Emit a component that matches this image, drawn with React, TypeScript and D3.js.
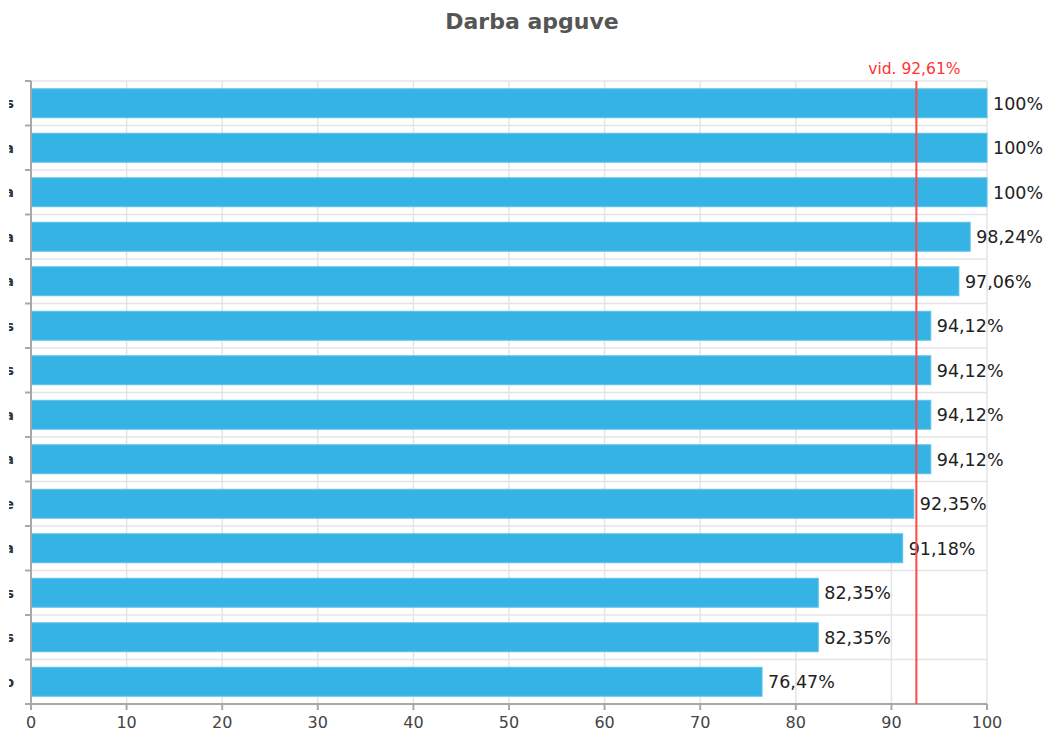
import React from "react";
import * as d3 from "d3";

// Visible trailing letters of the group names (the names run off the left edge)
const categories: string[] = ["s", "a", "a", "a", "a", "s", "s", "a", "a", "e", "a", "s", "s", "o"];
const values: number[] = [100, 100, 100, 98.24, 97.06, 94.12, 94.12, 94.12, 94.12, 92.35, 91.18, 82.35, 82.35, 76.47];
const xTicks: number[] = [0, 10, 20, 30, 40, 50, 60, 70, 80, 90, 100];
const average: number = 92.61;
const title = "Darba apguve";
const averageLabel = "vid. 92,61%";

const W = 1048;
const H = 737;
const FONT = "Verdana, 'DejaVu Sans', sans-serif";

const fmt = (v: number) => (Number.isInteger(v) ? String(v) : v.toFixed(2).replace(".", ",")) + "%";

export default function App() {
  const left = 31, right = 987, top = 81, bottom = 704;
  const x = d3.scaleLinear().domain([0, 100]).range([left, right]);
  const ids = categories.map((_, i) => String(i));
  const y = d3.scaleBand<string>().domain(ids).range([top, bottom]).paddingInner(0.35).paddingOuter(0.175);
  const step = y.step();
  const boundaries = d3.range(categories.length + 1).map((i) => top + i * step);

  return (
    <svg width={W} height={H} style={{ position: "absolute", left: 0, top: 0, background: "#fff" }} fontFamily={FONT}>
      <defs>
        <clipPath id="labelClip">
          <rect x={9} y={0} width={W} height={H} />
        </clipPath>
      </defs>
      <text x={532} y={29} textAnchor="middle" fontSize={22} fontWeight="bold" fill="#555">{title}</text>

      {/* grid */}
      {xTicks.map((t) => (
        <line key={"gx" + t} x1={x(t)} x2={x(t)} y1={top} y2={bottom} stroke="#e4e4e4" strokeWidth={1.5} />
      ))}
      {boundaries.map((b, i) => (
        <line key={"gy" + i} x1={left} x2={right} y1={b} y2={b} stroke="#e4e4e4" strokeWidth={1.5} />
      ))}

      {/* bars */}
      {values.map((v, i) => (
        <rect key={"b" + i} x={x(0)} y={y(ids[i])!} width={x(v) - x(0)} height={y.bandwidth()}
          fill="#35b3e5" stroke="#5cc1ea" strokeWidth={1} />
      ))}

      {/* value labels */}
      {values.map((v, i) => (
        <text key={"v" + i} x={x(v) + 6} y={y(ids[i])! + y.bandwidth() / 2} dy="0.36em" fontSize={17.5} fill="#222">{fmt(v)}</text>
      ))}

      {/* axes */}
      <line x1={left} x2={left} y1={top} y2={bottom} stroke="#a8a8a8" strokeWidth={2} />
      <line x1={25} x2={right} y1={bottom} y2={bottom} stroke="#a8a8a8" strokeWidth={2} />
      {boundaries.map((b, i) => (
        <line key={"ty" + i} x1={25} x2={left} y1={b} y2={b} stroke="#a8a8a8" strokeWidth={2} />
      ))}
      {xTicks.map((t) => (
        <g key={"tx" + t}>
          <line x1={x(t)} x2={x(t)} y1={bottom} y2={bottom + 6} stroke="#a8a8a8" strokeWidth={2} />
          <text x={x(t)} y={728} textAnchor="middle" fontSize={16} fill="#444">{t}</text>
        </g>
      ))}

      {/* category labels */}
      <g clipPath="url(#labelClip)">
        {categories.map((c, i) => (
          <text key={"c" + i} x={14} y={y(ids[i])! + y.bandwidth() / 2} dy="0.36em" textAnchor="end"
            fontSize={14} fontWeight="bold" fill="#333">{c}</text>
        ))}
      </g>

      {/* average line */}
      <line x1={x(average)} x2={x(average)} y1={top} y2={bottom} stroke="#ff4747" strokeWidth={2} />
      <text x={x(average) - 2} y={74} textAnchor="middle" fontSize={15.5} fill="#ff3333">{averageLabel}</text>
    </svg>
  );
}
